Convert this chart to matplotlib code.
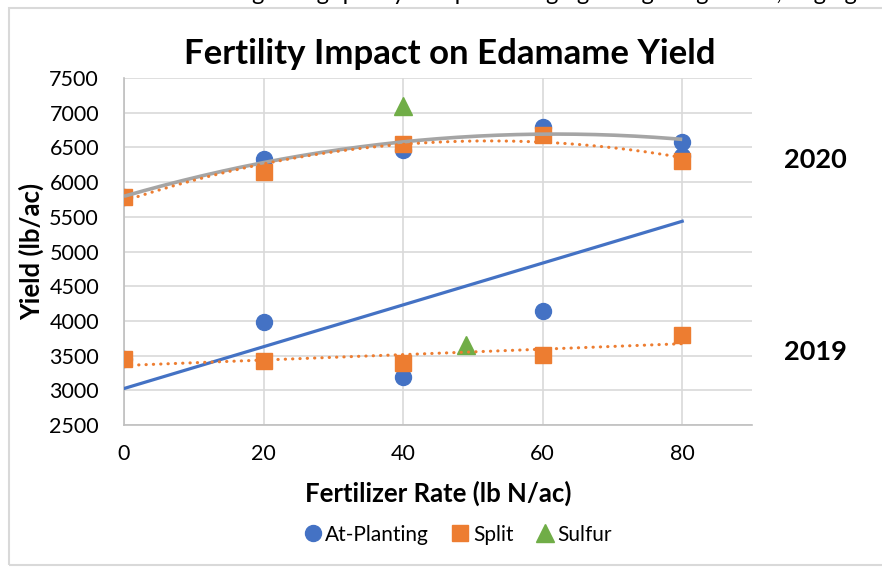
import numpy as np
import matplotlib.pyplot as plt
from matplotlib.patches import Rectangle
from matplotlib.lines import Line2D

plt.rcParams['font.family'] = ['Lato', 'DejaVu Sans']

rates = [0, 20, 40, 60, 80]

# 2020 season
at_planting_2020 = [5790, 6330, 6470, 6790, 6585]
split_2020 = [5785, 6145, 6555, 6680, 6300]
sulfur_2020_x = [40]
sulfur_2020 = [7100]

# 2019 season
at_planting_2019 = [3450, 3985, 3190, 4150, 6380]
split_2019 = [3450, 3420, 3397, 3510, 3797]
sulfur_2019_x = [49]
sulfur_2019 = [3650]

blue = '#4472C4'
orange = '#ED7D31'
green = '#70AD47'
gray = '#A5A5A5'

fig = plt.figure(figsize=(8.82, 5.67), dpi=100)
ax = fig.add_axes([0.1406, 0.2504, 0.712, 0.612])

# outer chart border (partly cut off like the screenshot)
fig.patches.append(Rectangle((9 / 882, 2 / 567), 1.2, 1 - 10 / 567, transform=fig.transFigure,
                             fill=False, edgecolor='#D9D9D9', lw=1.5))
# clipped caption line above the chart
fig.text(0.655, 1.012, 'grading quality and percentage grading for grade A, large grade',
         ha='center', va='center', fontsize=17, color='black')

ms = 11.5
ax.plot(rates, at_planting_2020, 'o', color=blue, ms=ms, zorder=3)
ax.plot(rates, at_planting_2019, 'o', color=blue, ms=ms, zorder=3)
ax.plot(rates, split_2020, 's', color=orange, ms=ms, zorder=4)
ax.plot(rates, split_2019, 's', color=orange, ms=ms, zorder=4)
ax.plot(sulfur_2020_x, sulfur_2020, '^', color=green, ms=13.5, zorder=4)
ax.plot(sulfur_2019_x, sulfur_2019, '^', color=green, ms=13.5, zorder=4)

# Excel-style trend lines
xs = np.linspace(0, 80, 200)
p = np.polyfit(rates, at_planting_2020, 2)
ax.plot(xs, np.polyval(p, xs), color=gray, lw=2.6, zorder=5, solid_capstyle='butt')
p = np.polyfit(rates, split_2020, 2)
ax.plot(xs, np.polyval(p, xs), color=orange, lw=2.2, ls=(0, (0.1, 2.3)),
        dash_capstyle='round', zorder=6)
p = np.polyfit(rates, at_planting_2019, 1)
ax.plot(xs, np.polyval(p, xs), color=blue, lw=2.3, zorder=5)
p = np.polyfit(rates, split_2019, 1)
ax.plot(xs, np.polyval(p, xs), color=orange, lw=2.2, ls=(0, (0.1, 2.3)),
        dash_capstyle='round', zorder=6)

ax.set_xlim(0, 90)
ax.set_ylim(2500, 7500)
ax.set_xticks(rates)
ax.set_yticks(np.arange(2500, 7501, 500))
ax.grid(True, color='#D9D9D9', lw=1.2)
ax.set_axisbelow(True)
for s in ['top', 'right']:
    ax.spines[s].set_visible(False)
for s in ['left', 'bottom']:
    ax.spines[s].set_color('#BFBFBF')
    ax.spines[s].set_linewidth(1.2)
ax.tick_params(length=0, labelsize=15.5)
ax.tick_params(axis='y', pad=18)
ax.tick_params(axis='x', pad=14)

ax.set_title('Fertility Impact on Edamame Yield', fontsize=25, fontweight='bold', pad=10, x=0.518)
ax.set_xlabel('Fertilizer Rate (lb N/ac)', fontsize=18.5, fontweight='bold', labelpad=12)
ax.set_ylabel('Yield (lb/ac)', fontsize=18.5, fontweight='bold', labelpad=4)

fig.text(0.924, 0.717, '2020', fontsize=19.5, fontweight='bold', ha='center', va='center')
fig.text(0.924, 0.379, '2019', fontsize=19.5, fontweight='bold', ha='center', va='center')

handles = [Line2D([], [], marker='o', color=blue, ls='', ms=ms),
           Line2D([], [], marker='s', color=orange, ls='', ms=ms),
           Line2D([], [], marker='^', color=green, ls='', ms=13)]
fig.legend(handles, ['At-Planting', 'Split', 'Sulfur'], loc='center', bbox_to_anchor=(0.517, 0.057),
           ncol=3, frameon=False, fontsize=15, handletextpad=0.0, columnspacing=0.9,
           handlelength=1.2)

fig.savefig('out.png', dpi=100)
